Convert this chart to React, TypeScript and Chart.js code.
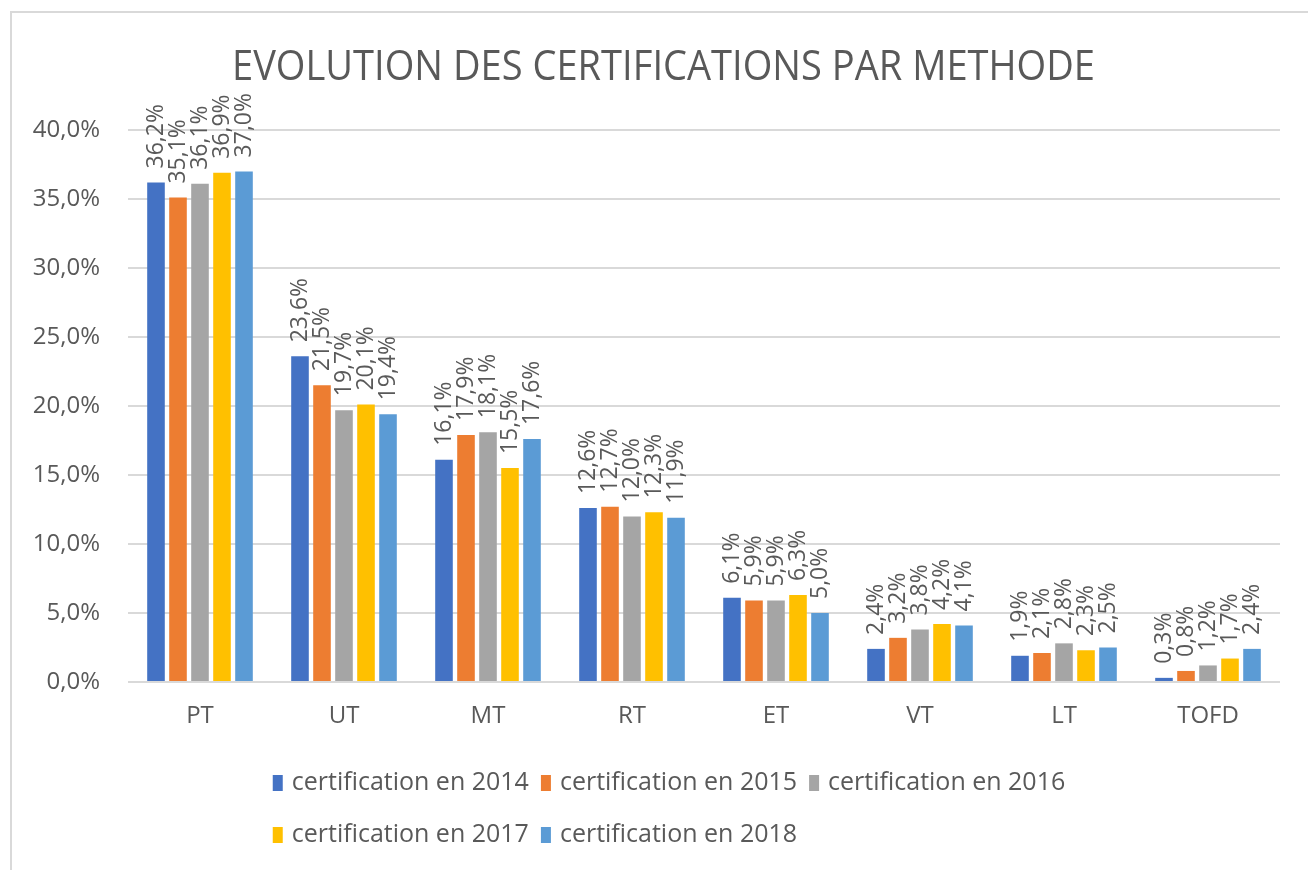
import React, { useEffect, useRef } from "react";
import { Chart, registerables } from "chart.js";

Chart.register(...registerables);

const TITLE = "EVOLUTION DES CERTIFICATIONS PAR METHODE";
const CATEGORIES = ["PT", "UT", "MT", "RT", "ET", "VT", "LT", "TOFD"];
const SERIES_NAMES = [
  "certification en 2014",
  "certification en 2015",
  "certification en 2016",
  "certification en 2017",
  "certification en 2018",
];
const V2014 = [36.2, 23.6, 16.1, 12.6, 6.1, 2.4, 1.9, 0.3];
const V2015 = [35.1, 21.5, 17.9, 12.7, 5.9, 3.2, 2.1, 0.8];
const V2016 = [36.1, 19.7, 18.1, 12.0, 5.9, 3.8, 2.8, 1.2];
const V2017 = [36.9, 20.1, 15.5, 12.3, 6.3, 4.2, 2.3, 1.7];
const V2018 = [37.0, 19.4, 17.6, 11.9, 5.0, 4.1, 2.5, 2.4];
const SERIES_VALUES = [V2014, V2015, V2016, V2017, V2018];
const COLORS = ["#4472C4", "#ED7D31", "#A5A5A5", "#FFC000", "#5B9BD5"];
const Y_MIN = 0;
const Y_MAX = 40;
const Y_STEP = 5;

const TEXT_COLOR = "#595959";
const FONT = '"Open Sans", "Noto Sans", sans-serif';

const fmt = (v: number) => v.toFixed(1).replace(".", ",") + "%";

const CANVAS_W = 1296;
const CANVAS_H = 857;

const titlePlugin = {
  id: "customTitle",
  afterDraw(chart: any) {
    const ctx = chart.ctx;
    ctx.save();
    ctx.font = `400 42px ${FONT}`;
    ctx.fillStyle = TEXT_COLOR;
    ctx.textBaseline = "alphabetic";
    ctx.textAlign = "left";
    const w = ctx.measureText(TITLE).width;
    const target = 863;
    const sx = target / w;
    const cx = 651.5;
    ctx.translate(cx - target / 2, 67);
    ctx.scale(sx, 1);
    ctx.fillText(TITLE, 0, 0);
    ctx.restore();
  },
};

const dataLabelPlugin = {
  id: "dataLabels",
  afterDatasetsDraw(chart: any) {
    const ctx = chart.ctx;
    ctx.save();
    ctx.font = `23px ${FONT}`;
    ctx.fillStyle = TEXT_COLOR;
    ctx.textAlign = "left";
    ctx.textBaseline = "middle";
    chart.data.datasets.forEach((ds: any, i: number) => {
      const meta = chart.getDatasetMeta(i);
      meta.data.forEach((bar: any, j: number) => {
        const v = ds.data[j];
        ctx.save();
        ctx.translate(bar.x, bar.y - 14);
        ctx.rotate(-Math.PI / 2);
        ctx.fillText(fmt(v), 0, 0);
        ctx.restore();
      });
    });
    ctx.restore();
  },
};

const legendPlugin = {
  id: "customLegend",
  afterDraw(chart: any) {
    const ctx = chart.ctx;
    ctx.save();
    ctx.font = `25px ${FONT}`;
    ctx.textBaseline = "middle";
    ctx.textAlign = "left";
    const boxW = 10;
    const boxH = 16;
    const gapBoxText = 9;
    const gapItems = 12;
    const perRow = 3;
    const rowsY = [770, 822];
    const itemWidths = SERIES_NAMES.map(
      (n) => boxW + gapBoxText + ctx.measureText(n).width
    );
    let row1W = 0;
    for (let k = 0; k < perRow; k++) row1W += itemWidths[k] + (k > 0 ? gapItems : 0);
    const startX = 657 - row1W / 2;
    SERIES_NAMES.forEach((name, i) => {
      const row = Math.floor(i / perRow);
      const col = i % perRow;
      let x = startX;
      for (let k = row * perRow; k < row * perRow + col; k++) x += itemWidths[k] + gapItems;
      const y = rowsY[row];
      ctx.fillStyle = COLORS[i];
      ctx.fillRect(x, y - boxH / 2, boxW, boxH);
      ctx.fillStyle = TEXT_COLOR;
      ctx.fillText(name, x + boxW + gapBoxText, y);
    });
    ctx.restore();
  },
};

export default function App() {
  const canvasRef = useRef<HTMLCanvasElement | null>(null);

  useEffect(() => {
    if (!canvasRef.current) return;
    const chart = new Chart(canvasRef.current, {
      type: "bar",
      data: {
        labels: CATEGORIES,
        datasets: SERIES_NAMES.map((name, i) => ({
          label: name,
          data: SERIES_VALUES[i],
          backgroundColor: COLORS[i],
          borderWidth: 0,
          categoryPercentage: 0.764,
          barPercentage: 0.8,
        })),
      },
      options: {
        responsive: false,
        animation: false,
        devicePixelRatio: 1,
        layout: { padding: { top: 117, left: 0, right: 28, bottom: 138 } },
        plugins: {
          legend: { display: false },
          title: { display: false },
          tooltip: { enabled: false },
        },
        scales: {
          x: {
            grid: { display: false, drawTicks: false },
            border: { display: false },
            ticks: {
              color: TEXT_COLOR,
              font: { family: FONT, size: 24 },
              padding: 20,
            },
            afterFit: (scale: any) => {
              scale.height = 50;
            },
          },
          y: {
            min: Y_MIN,
            max: Y_MAX,
            grid: { color: "#D9D9D9", lineWidth: 2, drawTicks: false },
            border: { display: false },
            ticks: {
              stepSize: Y_STEP,
              color: TEXT_COLOR,
              font: { family: FONT, size: 24 },
              padding: 28,
              callback: (v: any) => fmt(Number(v)),
            },
            afterFit: (scale: any) => {
              scale.width = 116;
            },
          },
        },
      },
      plugins: [titlePlugin, dataLabelPlugin, legendPlugin],
    });
    return () => chart.destroy();
  }, []);

  return (
    <div
      style={{
        position: "fixed",
        left: 0,
        top: 0,
        width: 1308,
        height: 870,
        background: "#ffffff",
        overflow: "hidden",
      }}
    >
      <div
        style={{
          position: "absolute",
          left: 10,
          top: 11,
          width: 1298,
          height: 859,
          borderLeft: "2px solid #D9D9D9",
          borderTop: "2px solid #D9D9D9",
        }}
      >
        <canvas
          ref={canvasRef}
          width={CANVAS_W}
          height={CANVAS_H}
          style={{ display: "block", width: CANVAS_W, height: CANVAS_H }}
        />
      </div>
    </div>
  );
}
